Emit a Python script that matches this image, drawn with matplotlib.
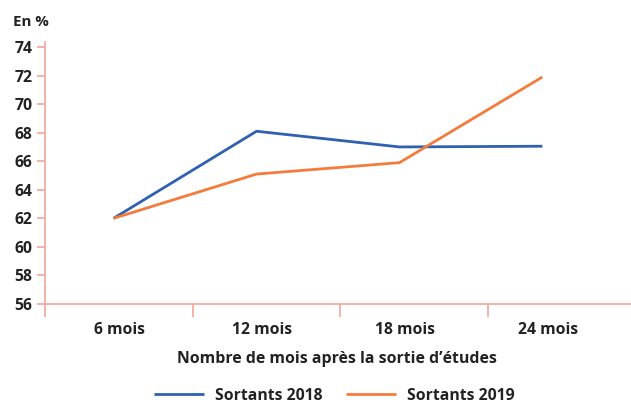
import matplotlib.pyplot as plt

categories = ['6 mois', '12 mois', '18 mois', '24 mois']
sortants_2018 = [62.0, 68.1, 67.0, 67.05]
sortants_2019 = [62.0, 65.1, 65.9, 71.9]
y_ticks = [56, 58, 60, 62, 64, 66, 68, 70, 72, 74]

blue = '#2f61b0'
orange = '#f47b3c'
axis_col = '#f3a49c'
text_col = '#222222'

plt.rcParams['font.family'] = ['Open Sans', 'DejaVu Sans']
plt.rcParams['font.weight'] = 'bold'

fig = plt.figure(figsize=(6.31, 4.08), dpi=100)
ax = fig.add_axes([0.0713, 0.255, 0.9287, 0.642])

x = list(range(len(categories)))
ax.plot(x, sortants_2018, color=blue, lw=2.0, label='Sortants 2018', solid_capstyle='butt')
ax.plot(x, sortants_2019, color=orange, lw=2.0, label='Sortants 2019', solid_capstyle='butt')

ax.set_xlim(-0.48, 3.62)
ax.set_ylim(56, 74.35)

# category labels sit slightly right of the data points, boundaries between them
label_shift = 0.04
ax.set_xticks([i + label_shift for i in x])
ax.set_xticklabels(categories, fontsize=11.3, color=text_col, fontweight='bold')
ax.set_xticks([-0.48, 0.557, 1.587, 2.62], minor=True)
ax.tick_params(axis='x', which='major', length=0, pad=13)
ax.tick_params(axis='x', which='minor', length=9, color=axis_col, width=1.2)

ax.set_yticks(y_ticks)
ax.set_yticklabels([str(v) for v in y_ticks], fontsize=11.3, color=text_col, fontweight='bold')
ax.tick_params(axis='y', length=6, color=axis_col, width=1.2, pad=3)

for s in ['top', 'right']:
    ax.spines[s].set_visible(False)
ax.spines['left'].set_color(axis_col)
ax.spines['bottom'].set_color(axis_col)
ax.spines['left'].set_linewidth(1.2)
ax.spines['bottom'].set_linewidth(1.2)

fig.text(0.021, 0.945, 'En %', fontsize=10.8, color=text_col, fontweight='bold', va='center')
fig.text(0.534, 0.12, 'Nombre de mois après la sortie d’études', fontsize=11.4,
         color=text_col, fontweight='bold', ha='center', va='center')

leg = fig.legend(loc='center', bbox_to_anchor=(0.53, 0.03), ncol=2, frameon=False,
                 fontsize=11.3, handlelength=3.2, columnspacing=1.5, handletextpad=0.7,
                 borderpad=0.2)
for t in leg.get_texts():
    t.set_color(text_col)
    t.set_fontweight('bold')

fig.savefig('out.png', dpi=100)
